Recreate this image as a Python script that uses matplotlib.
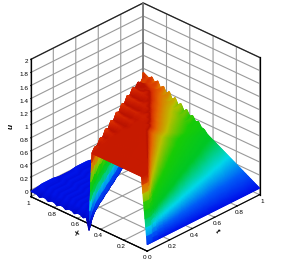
import numpy as np
import matplotlib
matplotlib.use('Agg')
import matplotlib.pyplot as plt
from matplotlib.colors import LinearSegmentedColormap
from matplotlib.tri import Triangulation, UniformTriRefiner, LinearTriInterpolator
from mpl_toolkits.mplot3d import proj3d

plt.rcParams['font.family'] = ['Liberation Sans', 'DejaVu Sans']

x_vals = [0, .05, .1, .15, .2, .25, .3, .35, .4, .45, .475,
          .5, .525, .55, .575, .6, .625, .65, .675, .7, .725,
          .75, .775, .8, .825, .85, .875, .9, .925, .95, 1]
t_vals = [0, .05, .1, .15, .2, .25, .3, .35, .4, .45, .5,
          .55, .6, .65, .7, .75, .8, .85, .9, .95, 1]

# one row per t value, one column per x value
u_vals = [
 [0,1,1,1,1,1,1,1,1,1,1, -.20,-.02,-.05,-.02,-.02,-.05,-.02,-.02,-.05,-.02,-.02,-.05,-.02,-.02,-.05,-.02,-.02,-.05,-.02,-.02],
 [0,1,1,1,1,1,1,1,1,1,1, 1.03,-.10,.01,-.01,.01,-.01,.01,-.01,.01,-.01,.01,-.01,.01,-.01,.01,-.01,.01,-.01,.01,-.01],
 [0,.5,1,1,1,1,1,1,1,1,1, 1,.99,-.05,.01,-.01,.01,-.01,.01,-.01,.01,-.01,.01,-.01,.01,-.01,.01,-.01,.01,-.01,.01],
 [0,.33,.67,1,1,1,1,1,1,1,1, 1,1.01,1.04,-.04,-.01,.01,-.01,.01,-.01,.01,-.01,.01,-.01,.01,-.01,.01,-.01,.01,-.01,.01],
 [0,.25,.5,.75,1,1,1,1,1,1,1, 1,1,.99,.99,-.03,.01,-.01,.01,-.01,.01,-.01,.01,-.01,.01,-.01,.01,-.01,.01,-.01,.01],
 [0,.2,.4,.6,.8,1,1,1,1,1,1, 1,1,1.01,1.02,1.05,-.04,.01,-.01,.01,-.01,.01,-.01,.01,-.01,.01,-.01,.01,-.01,.01,-.01],
 [0,.17,.33,.5,.67,.83,1,1,1,1,1, 1,1,.99,.98,.98,.99,-.03,-.01,.01,-.01,.01,-.01,.01,-.01,.01,-.01,.01,-.01,.01,-.01],
 [0,.14,.29,.43,.57,.71,.86,1,1,1,1, 1,1,1,1.01,1.02,1.03,1.05,-.04,.01,-.01,.01,-.01,.01,-.01,.01,-.01,.01,-.01,.01,-.01],
 [0,.13,.25,.38,.5,.63,.75,.88,1,1,1, 1,1,.99,.98,.98,.98,.98,.99,-.03,.01,-.01,.01,-.01,.01,-.01,.01,-.01,.01,-.01,.01],
 [0,.11,.22,.33,.44,.56,.67,.78,.89,1,1, 1,1,1,1.01,1.01,1.02,1.02,1.03,1.05,-.04,-.01,.01,-.01,.01,-.01,.01,-.01,.01,-.01,.01],
 [0,.1,.2,.3,.4,.5,.6,.7,.8,.9,1, 1,1,1,.99,.99,.98,.98,.98,.98,.99,-.03,.01,-.01,.01,-.01,.01,-.01,.01,-.01,.01],
 [0,.09,.18,.27,.36,.45,.55,.64,.73,.82,.91, .95,1,1.01,1.01,1.01,1.02,1.02,1.02,1.03,1.03,1.05,-.04,.01,-.01,.01,-.01,.01,-.01,.01,-.01],
 [0,.08,.17,.25,.33,.42,.5,.58,.67,.75,.83, .875,.92,.96,1,.99,.99,.98,.98,.98,.98,.98,.99,-.03,-.01,.01,-.01,.01,-.01,.01,-.01],
 [0,.08,.15,.23,.31,.38,.46,.54,.62,.69,.77, .81,.85,.88,.92,.96,1,1.01,1.01,1.02,1.02,1.03,1.03,1.05,-.04,.01,-.01,.01,-.01,.01,-.01],
 [0,.07,.14,.21,.29,.36,.43,.5,.57,.64,.71, .75,.79,.82,.86,.89,.93,.96,1,.99,.98,.98,.98,.98,.99,-.03,.01,-.01,.01,-.01,.01],
 [0,.07,.13,.2,.27,.33,.4,.47,.53,.6,.67, .70,.73,.77,.8,.83,.87,.9,.93,.97,1,1.01,1.02,1.02,1.03,1.04,-.04,-.01,.01,-.01,.01],
 [0,.06,.13,.19,.25,.31,.38,.44,.5,.56,.63, .66,.69,.72,.75,.78,.81,.84,.88,.91,.94,.97,1,.98,.97,.97,.97,-.03,.01,-.01,.01],
 [0,.06,.12,.18,.24,.29,.35,.41,.47,.53,.59, .62,.65,.68,.71,.74,.76,.79,.82,.85,.88,.91,.94,.96,.97,.98,.99,1.0,-.03,.01,-.01],
 [0,.06,.11,.17,.22,.28,.33,.39,.44,.5,.56, .58,.61,.64,.67,.69,.72,.75,.78,.81,.83,.86,.89,.92,.93,.94,.95,.93,.93,-.04,.01],
 [0,.05,.11,.16,.21,.26,.32,.37,.42,.47,.53, .57,.56,.63,.61,.68,.66,.74,.72,.79,.77,.84,.82,.89,.87,.93,.91,.95,.93,.96,-.03],
 [0,.05,.1,.15,.2,.25,.3,.35,.4,.45,.5, .51,.58,.56,.63,.6,.68,.64,.73,.69,.78,.73,.83,.78,.87,.82,.91,.86,.93,.89,.94],
]

t_ticks = [0, .2, .4, .6, .8, 1]
x_ticks = [0, .2, .4, .6, .8, 1]
u_ticks = [0, .2, .4, .6, .8, 1, 1.2, 1.4, 1.6, 1.8, 2]
tick_txt = ['0', '0.2', '0.4', '0.6', '0.8', '1']
u_txt = ['0', '0.2', '0.4', '0.6', '0.8', '1', '1.2', '1.4', '1.6', '1.8', '2']

umin, umax = -.1, 1.06
stops = [(-.10, (0.00, 0.00, 0.66)),
         (0.00, (0.00, 0.07, 0.90)),
         (0.02, (0.00, 0.11, 0.93)),
         (0.13, (0.00, 0.36, 0.97)),
         (0.26, (0.00, 0.85, 0.92)),
         (0.42, (0.00, 0.78, 0.15)),
         (0.60, (0.10, 0.80, 0.02)),
         (0.76, (0.75, 0.75, 0.00)),
         (0.88, (0.90, 0.42, 0.00)),
         (0.95, (0.85, 0.20, 0.00)),
         (0.98, (0.72, 0.07, 0.00)),
         (1.00, (0.78, 0.10, 0.00)),
         (1.03, (0.84, 0.16, 0.00)),
         (1.06, (0.90, 0.24, 0.00))]
tec = LinearSegmentedColormap.from_list(
    'tec', [((v - umin) / (umax - umin), c) for v, c in stops])

fig = plt.figure(figsize=(2.91, 2.59), dpi=100)
ax = fig.add_axes([-.013, -.004, 1, 1], projection='3d', proj_type='ortho')
ax.view_init(elev=29, azim=224)
ax.set_box_aspect((1, 1, .97), zoom=1.04)
ax.set_xlim(0, 1)
ax.set_ylim(0, 1)
ax.set_zlim(-.1, 2)
ax.patch.set_alpha(0)

ax.set_xticks(t_ticks)
ax.set_xticklabels(tick_txt)
ax.set_yticks(x_ticks)
ax.set_yticklabels(tick_txt)
ax.set_zticks(u_ticks)
ax.set_zticklabels(u_txt, ha='right')
ax.tick_params(labelsize=4.6, pad=-6)
ax.tick_params(axis='z', pad=-7)

for a in (ax.xaxis, ax.yaxis, ax.zaxis):
    a.set_pane_color((1, 1, 1, 0))
    a.pane.set_edgecolor('none')
    a._axinfo['grid'].update(color='#9a9a9a', linewidth=.8)
    a._axinfo['axisline']['linewidth'] = 1.0
    a._axinfo['axisline']['color'] = 'black'
    a._axinfo['tick'].update(inward_factor=0, outward_factor=.05, color='black')
ax.zaxis._axinfo['juggled'] = (0, 1, 2)

# box edges of the two back walls
ax.plot([0, 1, 1], [1, 1, 0], [2, 2, 2], color='#222222', lw=.9)
ax.plot([1, 1], [0, 0], [-.1, 2], color='black', lw=.9)
ax.plot([0, 0], [1, 1], [-.1, 2], color='black', lw=.9)
ax.plot([1, 1], [1, 1], [-.1, 2], color='#777777', lw=1.2)

lab = dict(fontsize=6, fontweight='bold', fontstyle='italic', ha='center', va='center')
fig.text(217 / 291, 1 - 232 / 259, 't', rotation=-40, **lab)
fig.text(77 / 291, 1 - 234 / 259, 'x', rotation=20, **lab)
fig.text(11 / 291, 1 - 126 / 259, 'u', rotation=90, **lab)

fig.canvas.draw()

# smooth surface: project nodes with the 3D axes, draw on an overlay
U = np.array(u_vals)
T, X = np.meshgrid(t_vals, x_vals, indexing='ij')
nt, nx = U.shape
tris = []
for i in range(nt - 1):
    for j in range(nx - 1):
        a = i * nx + j
        # diagonal runs with the shock front
        tris.append([a, a + 1, a + nx + 1])
        tris.append([a, a + nx + 1, a + nx])
base = Triangulation(T.ravel(), X.ravel(), np.array(tris))
# split the cells so the colours follow the colormap across the steep walls
fine, fine_u = UniformTriRefiner(base).refine_field(
    U.ravel(), triinterpolator=LinearTriInterpolator(base, U.ravel()), subdiv=3)
px, py, pz = proj3d.proj_transform(fine.x, fine.y, fine_u, ax.get_proj())
disp = ax.transData.transform(np.column_stack([px, py]))
order = np.argsort(-np.asarray(pz)[fine.triangles].mean(axis=1))

over = fig.add_axes([0, 0, 1, 1])
over.set_xlim(0, 291)
over.set_ylim(0, 259)
over.axis('off')
over.tripcolor(Triangulation(disp[:, 0], disp[:, 1], fine.triangles[order]), fine_u,
               shading='gouraud', cmap=tec, vmin=umin, vmax=umax)

plt.savefig('out.png', dpi=100)
